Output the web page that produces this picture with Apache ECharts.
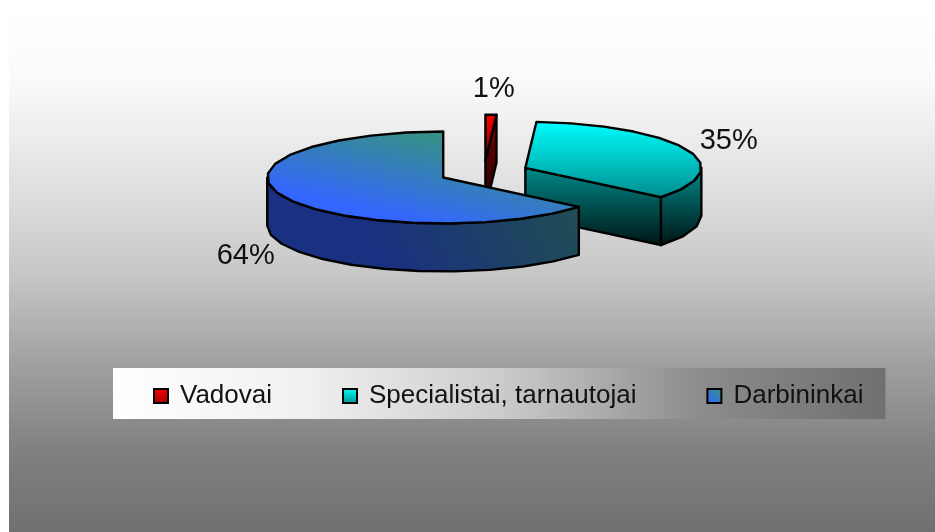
<!DOCTYPE html>
<html>
<head>
<meta charset="utf-8">
<style>
  html, body { margin: 0; padding: 0; background: #fff; }
  #chart { width: 935px; height: 532px; }
</style>
<script src="https://cdn.jsdelivr.net/npm/echarts@6/dist/echarts.min.js"></script>
</head>
<body>
<div id="chart"></div>
<script>
const categories = ['Vadovai', 'Specialistai, tarnautojai', 'Darbininkai']
const shares = [1, 35, 64]

// centre of the undisplaced pie, then ellipse radii and wall height
const pie = { cx: 484, cy: 172.5, rx: 176, ry: 46, depth: 48, explode: 0.256 }
const facetDeg = 12

const grad = (x, y, x2, y2, c0, c1) => new echarts.graphic.LinearGradient(x, y, x2, y2, [
  { offset: 0, color: c0 },
  { offset: 1, color: c1 }
])

const topFills = [
  grad(0, 0, 1, 1, '#ff0000', '#700000'),
  grad(0, 0, 0, 1, '#00ffff', '#008c8c'),
  grad(0.57, 0, 0.5, 1, '#36947c', '#3366ff')
]
const wallFills = [
  grad(0, 0, 0, 1, '#800000', '#180000'),
  grad(0, 0, 0, 1, '#008a8a', '#001414'),
  grad(1, 0, 0.4, 1, '#20504f', '#1a3080')
]
const legendFills = [
  grad(0, 0, 0, 1, '#ff0000', '#a00000'),
  grad(0, 0, 0, 1, '#00ffff', '#009090'),
  grad(1, 0, 0, 1, '#36947c', '#3366ff')
]
const pageFill = new echarts.graphic.LinearGradient(0, 0, 0, 1, [
  { offset: 0, color: '#ffffff' },
  { offset: 0.134, color: '#fafafa' },
  { offset: 0.23, color: '#eeeeee' },
  { offset: 0.364, color: '#dcdcdc' },
  { offset: 0.498, color: '#c8c8c8' },
  { offset: 0.68, color: '#a0a0a0' },
  { offset: 0.847, color: '#808080' },
  { offset: 1, color: '#707070' }
])
const legendFill = new echarts.graphic.LinearGradient(0, 0, 1, 0, [
  { offset: 0, color: '#ffffff' },
  { offset: 0.25, color: '#f0f0f0' },
  { offset: 0.5, color: '#cccccc' },
  { offset: 0.76, color: '#8c8c8c' },
  { offset: 1, color: '#707070' }
])

const total = shares.reduce((a, b) => a + b, 0)
const rad = (d) => d * Math.PI / 180

const rimPoints = (c, from, to, dy) => {
  const n = Math.max(1, Math.round((to - from) / facetDeg))
  const pts = []
  for (let i = 0; i <= n; i++) {
    const t = rad(from + (to - from) * i / n)
    pts.push([c.x + pie.rx * Math.sin(t), c.y - pie.ry * Math.cos(t) + dy])
  }
  return pts
}

const face = (points, fill) => ({
  type: 'polygon',
  shape: { points },
  style: { fill, stroke: '#000', lineWidth: 2.4, lineJoin: 'round' }
})

const renderSlice = (params, api) => {
  const i = params.seriesIndex
  const value = api.value(0)
  const before = shares.slice(0, i).reduce((a, b) => a + b, 0)
  const start = before / total * 360
  const end = (before + value) / total * 360
  const mid = rad((start + end) / 2)
  const c = {
    x: pie.cx + pie.rx * pie.explode * Math.sin(mid),
    y: pie.cy - pie.ry * pie.explode * Math.cos(mid)
  }
  const children = []

  // radial cut on the clockwise side, only when it faces the viewer
  if (Math.sin(rad(end)) > 0.001) {
    const rim = rimPoints(c, end, end, 0)[0]
    children.push(face([
      [c.x, c.y], rim, [rim[0], rim[1] + pie.depth], [c.x, c.y + pie.depth]
    ], wallFills[i]))
  }
  // outer wall, front half of the ellipse
  const wallFrom = Math.max(start, 90)
  const wallTo = Math.min(end, 270)
  if (wallTo > wallFrom) {
    const upper = rimPoints(c, wallFrom, wallTo, 0)
    const lower = rimPoints(c, wallFrom, wallTo, pie.depth).reverse()
    children.push(face(upper.concat(lower), wallFills[i]))
  }
  children.push(face([[c.x, c.y]].concat(rimPoints(c, start, end, 0)), topFills[i]))

  children.push({
    type: 'text',
    style: {
      text: value + '%',
      x: c.x + pie.rx * 1.25 * Math.sin(mid) + 1.5,
      y: c.y - pie.ry * 1.6 * Math.cos(mid) + (Math.cos(mid) < 0 ? 45 : 0) + 2,
      fill: '#111',
      font: '29px "Liberation Sans"',
      align: 'center',
      verticalAlign: 'middle'
    }
  })
  return { type: 'group', children }
}

const chart = echarts.init(document.getElementById('chart'), null, { renderer: 'canvas' })
chart.setOption({
  animation: false,
  graphic: [{
    type: 'rect',
    z: -1,
    shape: { x: 9, y: 10, width: 926, height: 522 },
    style: { fill: pageFill }
  }],
  legend: {
    left: 113,
    top: 368,
    orient: 'horizontal',
    padding: [15, 22, 10, 40],
    itemGap: 70,
    itemWidth: 14,
    itemHeight: 14,
    backgroundColor: legendFill,
    textStyle: { color: '#111', fontFamily: 'Liberation Sans', fontSize: 26, padding: [0, 0, 0, 7] },
    data: categories.map((name, i) => ({
      name,
      icon: 'rect',
      itemStyle: { color: legendFills[i], borderColor: '#000', borderWidth: 2 }
    }))
  },
  series: categories.map((name, i) => ({
    type: 'custom',
    name,
    coordinateSystem: 'none',
    silent: true,
    data: [[shares[i]]],
    renderItem: renderSlice
  }))
})
</script>
</body>
</html>
